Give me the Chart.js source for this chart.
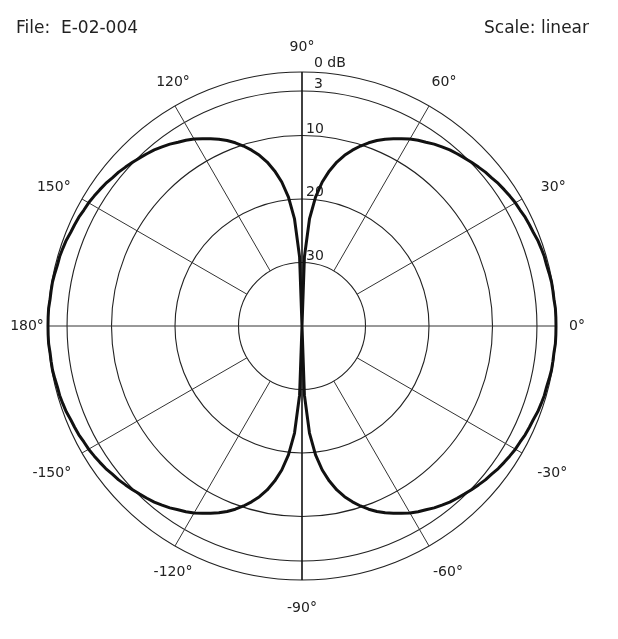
<!DOCTYPE html>
<html>
<head>
<meta charset="utf-8">
<title>E-02-004 polar pattern</title>
<script src="https://cdn.jsdelivr.net/npm/chart.js@4.4.1/dist/chart.umd.min.js"></script>
<style>
  html, body { margin: 0; padding: 0; background: #fff; }
  #wrap { width: 618px; height: 639px; position: relative; }
</style>
</head>
<body>
<div id="wrap"><canvas id="polarChart"></canvas></div>
<script>
// header texts
const FILE_LABEL = "File:  E-02-004";
const SCALE_LABEL = "Scale: linear";

// rings (dB, linear scale, centre = -40 dB)
const DB_MIN = -40;
const DB_MAX = 0;
const RING_DB = [-30, -20, -10, -3, 0];
const RING_LABELS = ["30", "20", "10", "3", "0 dB"];

// spokes / angle labels (degrees, 0 = right, counter-clockwise)
const ANGLE_TICKS = [0, 30, 60, 90, 120, 150, 180, -150, -120, -90, -60, -30];

// pattern, one quadrant, every 2 degrees from 0 to 90
// (both lobes are symmetric, so the other quadrants mirror this one)
const ANGLE_STEP = 2;
const QUADRANT_DB = [
  0.0, 0.0, 0.0, -0.1, -0.1, -0.1,
  -0.2, -0.3, -0.3, -0.4, -0.5,
  -0.7, -0.8, -0.9, -1.1, -1.2,
  -1.4, -1.6, -1.8, -2.1, -2.3,
  -2.6, -2.9, -3.2, -3.5, -3.8,
  -4.2, -4.6, -5.1, -5.5, -6.0,
  -6.6, -7.2, -7.8, -8.5, -9.3,
  -10.2, -11.2, -12.3, -13.6, -15.2,
  -17.1, -19.6, -23.1, -29.1, -40.0
];

// radar categories go clockwise from the top: 90, 88, ... 0, ... -90, ... 180, ... 92
const angleLabels = [];
for (let i = 0; i < 360 / ANGLE_STEP; i++) {
  let a = 90 - i * ANGLE_STEP;
  if (a <= -180) a += 360;
  angleLabels.push(a);
}

const foldToQuadrant = (a) => {
  const t = Math.abs(a);
  return t > 90 ? 180 - t : t;
};

const patternDb = angleLabels.map((a) => QUADRANT_DB[foldToQuadrant(a) / ANGLE_STEP]);

// small hand nudges so the angle labels sit where the original put them
const LABEL_NUDGE = {
  0: [-7, 0], 30: [7, 2], 60: [1, 1], 90: [0, 3], 120: [12, 1], 150: [-4, 2],
  180: [7, 0], "-150": [-6, 6], "-120": [12, 2], "-90": [0, 0], "-60": [5, 2], "-30": [6, 6]
};

const polarDecor = {
  id: "polarDecor",
  beforeDatasetsDraw(chart) {
    const r = chart.scales.r;
    const ctx = chart.ctx;
    ctx.save();

    // spokes: the axes cross the centre, the diagonals stop at the 30 dB ring
    ANGLE_TICKS.forEach((deg) => {
      const idx = angleLabels.indexOf(deg);
      const cardinal = deg % 90 === 0;
      const vertical = deg === 90 || deg === -90;
      const p0 = r.getPointPositionForValue(idx, cardinal ? DB_MIN : RING_DB[0]);
      const p1 = r.getPointPositionForValue(idx, DB_MAX);
      ctx.beginPath();
      ctx.lineWidth = vertical ? 1.6 : 1;
      ctx.strokeStyle = vertical ? "#111" : "#333";
      ctx.moveTo(p0.x, p0.y);
      ctx.lineTo(p1.x, p1.y);
      ctx.stroke();
    });

    // ring labels, just right of the vertical axis
    ctx.fillStyle = "#222";
    ctx.font = "14px 'DejaVu Sans'";
    ctx.textAlign = "left";
    ctx.textBaseline = "alphabetic";
    RING_DB.forEach((db, i) => {
      const dist = r.getDistanceFromCenterForValue(db);
      const dx = db >= -3 ? 12 : 4;
      const dy = db === 0 ? 5 : 3;
      ctx.fillText(RING_LABELS[i], r.xCenter + dx, r.yCenter - dist - dy);
    });
    ctx.restore();
  },
  afterDraw(chart) {
    const r = chart.scales.r;
    const ctx = chart.ctx;
    ctx.save();
    ctx.fillStyle = "#222";

    // angle labels round the outer ring
    ctx.font = "14px 'DejaVu Sans'";
    ctx.textAlign = "center";
    ctx.textBaseline = "middle";
    ANGLE_TICKS.forEach((deg) => {
      const idx = angleLabels.indexOf(deg);
      const p = r.getPointPosition(idx, r.drawingArea + 28);
      const nudge = LABEL_NUDGE[deg] || [0, 0];
      ctx.fillText(deg + "°", p.x + nudge[0], p.y + nudge[1]);
    });

    // header
    ctx.font = "17px 'DejaVu Sans'";
    ctx.textBaseline = "alphabetic";
    ctx.textAlign = "left";
    ctx.fillText(FILE_LABEL, 16, 33);
    ctx.textAlign = "right";
    ctx.fillText(SCALE_LABEL, 589, 33);
    ctx.restore();
  }
};

new Chart(document.getElementById("polarChart"), {
  type: "radar",
  data: {
    labels: angleLabels,
    datasets: [
      {
        label: "E-02-004",
        data: patternDb,
        borderColor: "#111",
        borderWidth: 3,
        borderJoinStyle: "round",
        pointRadius: 0,
        fill: false,
        tension: 0,
      },
    ],
  },
  options: {
    responsive: true,
    maintainAspectRatio: false,
    animation: false,
    layout: {
      padding: { left: 48, right: 62, top: 72, bottom: 59 },
    },
    plugins: {
      legend: { display: false },
      tooltip: { enabled: false },
    },
    scales: {
      r: {
        min: DB_MIN,
        max: DB_MAX,
        startAngle: 0,
        afterBuildTicks: (scale) => {
          scale.ticks = RING_DB.map((v) => ({ value: v }));
        },
        ticks: { display: false },
        grid: { circular: true, color: "#222", lineWidth: 1.1 },
        angleLines: { display: false },
        pointLabels: { display: false },
      },
    },
  },
  plugins: [polarDecor],
});
</script>
</body>
</html>
